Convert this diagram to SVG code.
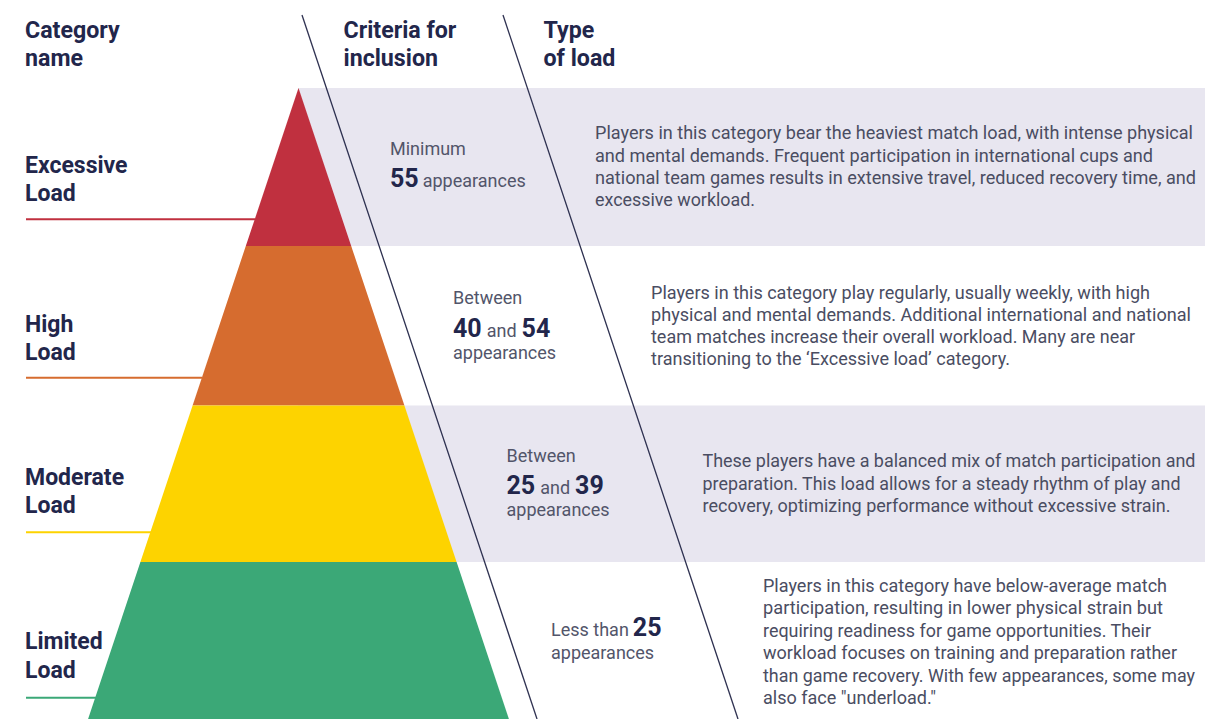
<svg xmlns="http://www.w3.org/2000/svg" width="1205" height="719" viewBox="0 0 1205 719">
<style>
.hd{font-family:Roboto,"Liberation Sans",sans-serif;font-weight:700;font-size:23.2px;fill:#22264b}
.cat{font-family:Roboto,"Liberation Sans",sans-serif;font-weight:700;font-size:23px;fill:#22264b}
.sm{font-family:Roboto,"Liberation Sans",sans-serif;font-weight:400;font-size:18px;fill:#52556a}
.num{font-family:Roboto,"Liberation Sans",sans-serif;font-weight:700;font-size:25px;fill:#22264b}
.ds{font-family:Roboto,"Liberation Sans",sans-serif;font-weight:400;font-size:17.5px;fill:#4a4d62}
.band{fill:#e8e6f0}
.div{stroke:#2d3050;stroke-width:1.3;fill:none}
</style>
<rect width="1205" height="719" fill="#ffffff"/>
<g id="bands">
<rect class="band" x="298" y="88" width="907" height="158"/>
<rect class="band" x="298" y="405.5" width="907" height="156.5"/>
</g>
<g id="headers">
<text class="hd" x="25" y="37.5">Category</text>
<text class="hd" x="25" y="65.5">name</text>
<text class="hd" x="343.5" y="37.5">Criteria for</text>
<text class="hd" x="343.5" y="65.5">inclusion</text>
<text class="hd" x="543.5" y="37.5">Type</text>
<text class="hd" x="543.5" y="65.5">of load</text>
</g>
<g id="connectors">
<line class="div" x1="302" y1="15" x2="537" y2="719"/>
<line class="div" x1="503" y1="15" x2="738" y2="719"/>
</g>
<g id="excessive">
<polygon points="298.5,88 351.2,246 245.8,246" fill="#c0303f"/>
<line x1="26" y1="219.3" x2="255" y2="219.3" stroke="#c0303f" stroke-width="2"/>
<text class="cat" x="25" y="172.7">Excessive</text>
<text class="cat" x="25" y="201">Load</text>
<text class="sm" x="390" y="155">Minimum</text>
<text x="390" y="187"><tspan class="num">55</tspan><tspan class="sm" dx="4">appearances</tspan></text>
<text class="ds" x="595" y="139" textLength="598" lengthAdjust="spacingAndGlyphs">Players in this category bear the heaviest match load, with intense physical</text>
<text class="ds" x="595" y="161.5" textLength="558" lengthAdjust="spacingAndGlyphs">and mental demands. Frequent participation in international cups and</text>
<text class="ds" x="595" y="184" textLength="601" lengthAdjust="spacingAndGlyphs">national team games results in extensive travel, reduced recovery time, and</text>
<text class="ds" x="595" y="206" textLength="160" lengthAdjust="spacingAndGlyphs">excessive workload.</text>
</g>
<g id="high">
<polygon points="245.8,246 351.2,246 404.4,405.5 192.6,405.5" fill="#d66c2f"/>
<line x1="26" y1="377.7" x2="202" y2="377.7" stroke="#d66c2f" stroke-width="2"/>
<text class="cat" x="25" y="331.7">High</text>
<text class="cat" x="25" y="360">Load</text>
<text class="sm" x="453" y="304">Between</text>
<text x="453" y="336.5"><tspan class="num">40</tspan><tspan class="sm" dx="5">and</tspan><tspan class="num" dx="5">54</tspan></text>
<text class="sm" x="453" y="358.5">appearances</text>
<text class="ds" x="651" y="298.5" textLength="499" lengthAdjust="spacingAndGlyphs">Players in this category play regularly, usually weekly, with high</text>
<text class="ds" x="651" y="321" textLength="540" lengthAdjust="spacingAndGlyphs">physical and mental demands. Additional international and national</text>
<text class="ds" x="651" y="343" textLength="484" lengthAdjust="spacingAndGlyphs">team matches increase their overall workload. Many are near</text>
<text class="ds" x="651" y="365" textLength="359" lengthAdjust="spacingAndGlyphs">transitioning to the ‘Excessive load’ category.</text>
</g>
<g id="moderate">
<polygon points="192.6,405.5 404.4,405.5 456.6,562 140.4,562" fill="#fdd300"/>
<line x1="26" y1="532.3" x2="151" y2="532.3" stroke="#fdd300" stroke-width="2"/>
<text class="cat" x="25" y="485">Moderate</text>
<text class="cat" x="25" y="513.3">Load</text>
<text class="sm" x="506.5" y="461.7">Between</text>
<text x="506.5" y="493.5"><tspan class="num">25</tspan><tspan class="sm" dx="5">and</tspan><tspan class="num" dx="5">39</tspan></text>
<text class="sm" x="506.5" y="515.5">appearances</text>
<text class="ds" x="702.5" y="467" textLength="493" lengthAdjust="spacingAndGlyphs">These players have a balanced mix of match participation and</text>
<text class="ds" x="702.5" y="490" textLength="478" lengthAdjust="spacingAndGlyphs">preparation. This load allows for a steady rhythm of play and</text>
<text class="ds" x="702.5" y="512" textLength="468" lengthAdjust="spacingAndGlyphs">recovery, optimizing performance without excessive strain.</text>
</g>
<g id="limited">
<polygon points="140.4,562 456.6,562 508.9,719 88.1,719" fill="#3ba877"/>
<line x1="26" y1="697.7" x2="96" y2="697.7" stroke="#3ba877" stroke-width="2"/>
<text class="cat" x="25" y="649">Limited</text>
<text class="cat" x="25" y="678">Load</text>
<text x="551" y="636"><tspan class="sm">Less than</tspan><tspan class="num" dx="4">25</tspan></text>
<text class="sm" x="551" y="658.5">appearances</text>
<text class="ds" x="763" y="591.7" textLength="404" lengthAdjust="spacingAndGlyphs">Players in this category have below-average match</text>
<text class="ds" x="763" y="614" textLength="400" lengthAdjust="spacingAndGlyphs">participation, resulting in lower physical strain but</text>
<text class="ds" x="763" y="636.7" textLength="388" lengthAdjust="spacingAndGlyphs">requiring readiness for game opportunities. Their</text>
<text class="ds" x="763" y="659" textLength="414" lengthAdjust="spacingAndGlyphs">workload focuses on training and preparation rather</text>
<text class="ds" x="763" y="681.7" textLength="432" lengthAdjust="spacingAndGlyphs">than game recovery. With few appearances, some may</text>
<text class="ds" x="763" y="703.5" textLength="173" lengthAdjust="spacingAndGlyphs">also face "underload."</text>
</g>
</svg>
